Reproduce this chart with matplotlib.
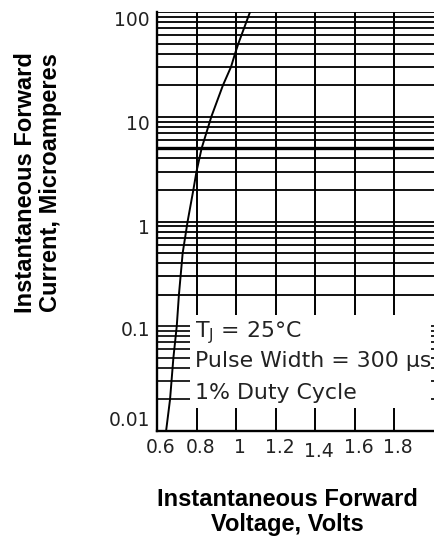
import matplotlib
matplotlib.use("Agg")
import matplotlib.pyplot as plt
from matplotlib.transforms import ScaledTranslation

plt.rcParams['font.family'] = ['DejaVu Sans']
plt.rcParams['mathtext.fontset'] = 'dejavusans'

# forward voltage (V) vs forward current (uA)
volts = [0.646, 0.666, 0.683, 0.700, 0.711, 0.730, 0.755, 0.784, 0.800,
         0.826, 0.875, 0.934, 0.975, 0.995, 1.012, 1.071]
current = [0.01, 0.02, 0.05, 0.1, 0.2, 0.5, 1, 2, 3,
           5, 10, 20, 30, 40, 50, 100]

x_ticks = [0.6, 0.8, 1.0, 1.2, 1.4, 1.6, 1.8]
x_labels = ['0.6', '0.8', '1', '1.2', '1.4', '1.6', '1.8']
y_ticks = [0.01, 0.1, 1, 10, 100]
y_labels = ['0.01', '0.1', '1', '10', '100']

notes = ['T$_\\mathregular{J}$ = 25°C', 'Pulse Width = 300 μs', '1% Duty Cycle']

fig = plt.figure(figsize=(4.34, 5.41), dpi=100)
ax = fig.add_axes([157/434, 1 - 431/541, (433.5 - 157)/434, (431 - 12)/541])
ax.set_yscale('log')
ax.set_xlim(0.6, 2.0)
ax.set_ylim(0.01, 100)

# horizontal grid: full width above 0.1, short stubs in the lowest decade
grid_y = [m * 10**k for k in range(-2, 2) for m in range(1, 10)] + [100]
for v in grid_y:
    if v <= 0.01:
        continue
    lw = 2.4 if abs(v - 5) < 1e-9 else 1.3
    if v > 0.11:
        ax.hlines(v, 0.6, 2.0, color='black', lw=lw, zorder=1)
    else:
        ax.hlines(v, 0.6, 0.767, color='black', lw=1.2, zorder=1)
        ax.hlines(v, 1.985, 2.0, color='black', lw=1.2, zorder=1)

# vertical grid stops above the note box, ticks at the bottom
for xv in x_ticks[1:]:
    ax.vlines(xv, 0.127, 100, color='black', lw=1.4, zorder=1)
    ax.vlines(xv, 0.01, 0.0166, color='black', lw=1.4, zorder=1)

ax.plot(volts, current, color='black', lw=1.4, zorder=3)

for s in ['top', 'right']:
    ax.spines[s].set_visible(False)
for s in ['left', 'bottom']:
    ax.spines[s].set_linewidth(1.7)

ax.set_xticks(x_ticks)
ax.set_xticklabels(x_labels, fontsize=13.5)
ax.set_yticks(y_ticks)
ax.set_yticklabels(y_labels, fontsize=13.5)
ax.yaxis.set_minor_locator(matplotlib.ticker.NullLocator())
ax.tick_params(axis='both', length=0, pad=5, colors='#222222')

for lab in ax.get_xticklabels():
    dy = -4 if lab.get_text() == '1.4' else 0
    lab.set_transform(lab.get_transform() + ScaledTranslation(4/100, dy/100, fig.dpi_scale_trans))
y_dy = [13, -2, -5, -6, -6]
for lab, dy in zip(ax.get_yticklabels(), y_dy):
    lab.set_transform(lab.get_transform() + ScaledTranslation(0, dy/100, fig.dpi_scale_trans))

for i, t in enumerate(notes):
    ax.text(0.137, [0.224, 0.153, 0.076][i], t, transform=ax.transAxes,
            fontsize=15.8, va='baseline', ha='left', color='#222222')

fig.text(287/434, 1 - 512/541, 'Instantaneous Forward\nVoltage, Volts',
         ha='center', va='center', fontsize=17, fontweight='bold',
         family='Liberation Sans', linespacing=1.1)
fig.text(38/434, 1 - 183/541, 'Instantaneous Forward\nCurrent, Microamperes',
         ha='center', va='center', fontsize=17, fontweight='bold',
         family='Liberation Sans', rotation=90, linespacing=1.1)

fig.savefig('out.png', dpi=100)
